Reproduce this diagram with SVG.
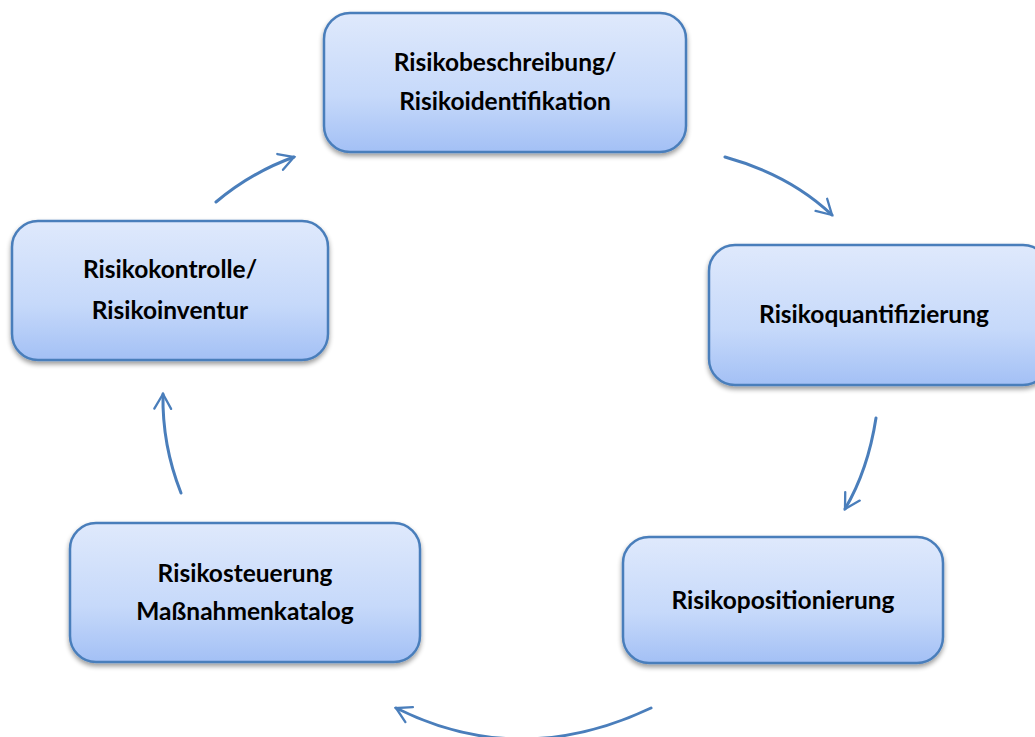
<svg xmlns="http://www.w3.org/2000/svg" width="1035" height="737" viewBox="0 0 1035 737">
<style>
.box{fill:url(#g);stroke:#4a7ebb;stroke-width:2.5;filter:url(#sh)}
.t{font-family:"Lato","Open Sans",sans-serif;font-weight:bold;font-size:24.5px;fill:#000;text-anchor:middle}
.c{fill:none;stroke:#4a7ebb;stroke-width:3;stroke-linecap:round;marker-end:url(#ah)}
</style>
<defs>
<linearGradient id="g" x1="0" y1="0" x2="0" y2="1">
<stop offset="0" stop-color="#dfe9fc"/>
<stop offset="0.6" stop-color="#c6d9fa"/>
<stop offset="1" stop-color="#a3c0f5"/>
</linearGradient>
<filter id="sh" x="-10%" y="-10%" width="120%" height="130%">
<feGaussianBlur in="SourceAlpha" stdDeviation="2.5"/>
<feOffset dx="0" dy="3" result="b"/>
<feComponentTransfer><feFuncA type="linear" slope="0.4"/></feComponentTransfer>
<feMerge><feMergeNode/><feMergeNode in="SourceGraphic"/></feMerge>
</filter>
<marker id="ah" viewBox="0 0 20 20" refX="16" refY="10" markerWidth="7" markerHeight="7" markerUnits="strokeWidth" orient="auto">
<path d="M2,2 L16,10 L2,18" fill="none" stroke="#4a7ebb" stroke-width="2.2" stroke-linecap="round"/>
</marker>
</defs>
<g id="n1"><rect class="box" x="324" y="13" width="362" height="139" rx="26"/>
<text class="t" x="505" y="71">Risikobeschreibung/</text><text class="t" x="505" y="110">Risikoidentifikation</text></g>
<g id="n2"><rect class="box" x="709" y="245" width="340" height="140" rx="26"/>
<text class="t" x="874" y="323">Risikoquantifizierung</text></g>
<g id="n3"><rect class="box" x="623" y="537" width="320" height="126" rx="26"/>
<text class="t" x="783" y="609">Risikopositionierung</text></g>
<g id="n4"><rect class="box" x="70" y="523" width="350" height="139" rx="26"/>
<text class="t" x="245" y="582">Risikosteuerung</text><text class="t" x="245" y="620">Maßnahmenkatalog</text></g>
<g id="n5"><rect class="box" x="12" y="221" width="316" height="139" rx="26"/>
<text class="t" x="170" y="278">Risikokontrolle/</text><text class="t" x="170" y="319">Risikoinventur</text></g>
<g id="connectors">
<path class="c" d="M725,157 Q790,175 832,215"/>
<path class="c" d="M876,418 Q868,470 845,509"/>
<path class="c" d="M651,708 Q520,770 396,708"/>
<path class="c" d="M181,493 Q162,445 163,394"/>
<path class="c" d="M216,202 Q252,172 294,157"/>
</g>
</svg>
